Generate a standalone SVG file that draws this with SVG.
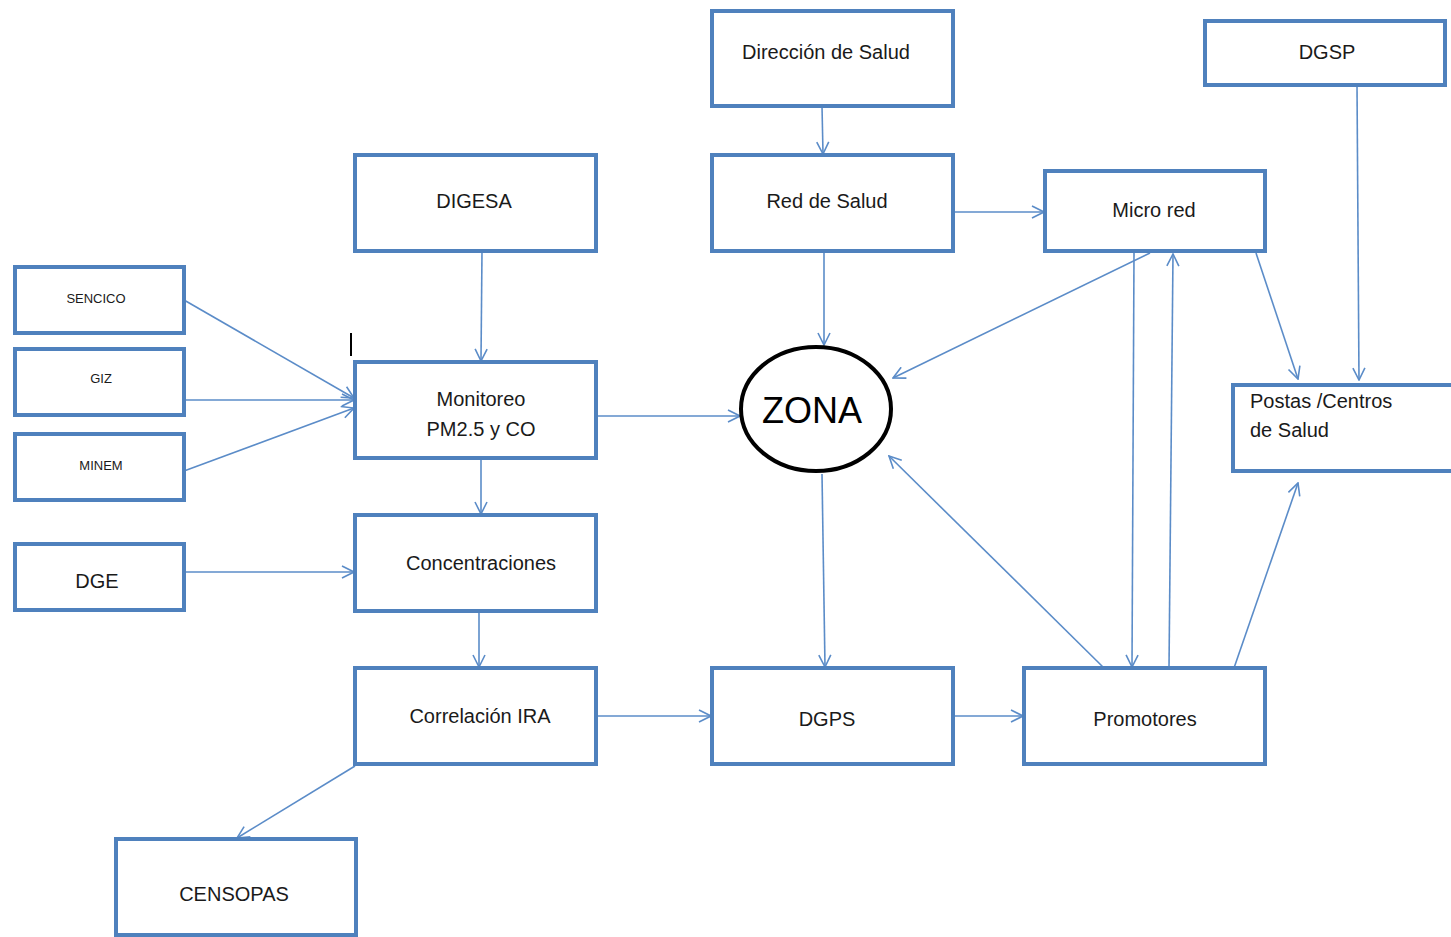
<svg xmlns="http://www.w3.org/2000/svg" width="1451" height="937" viewBox="0 0 1451 937">
<style>
.box{fill:#fff;stroke:#4f81bd;stroke-width:4}
.lbl{font-family:"Liberation Sans",Arial,sans-serif;font-size:20px;fill:#1a1a1a;text-anchor:middle}
.sm{font-size:13px}
.conn line{stroke:#5b8cc8;stroke-width:1.6;fill:none;marker-end:url(#arr)}
</style>
<defs>
<marker id="arr" viewBox="0 0 14 14" refX="13" refY="7" markerWidth="14" markerHeight="14" markerUnits="userSpaceOnUse" orient="auto">
<path d="M1,1 L13,7 L1,13" fill="none" stroke="#5b8cc8" stroke-width="1.6"/>
</marker>
</defs>
<rect width="1451" height="937" fill="#fff"/>
<g id="connectors" class="conn">
<line x1="822" y1="106" x2="823" y2="154"/>
<line x1="824" y1="251" x2="824" y2="345"/>
<line x1="953" y1="212" x2="1044" y2="212"/>
<line x1="1357" y1="85" x2="1359" y2="380"/>
<line x1="1256" y1="253" x2="1298" y2="379"/>
<line x1="1150" y1="253" x2="893" y2="378"/>
<line x1="1134" y1="253" x2="1132" y2="667"/>
<line x1="1169" y1="668" x2="1173" y2="254"/>
<line x1="1104" y1="668" x2="889" y2="456"/>
<line x1="1234" y1="668" x2="1298" y2="483"/>
<line x1="822" y1="474" x2="825" y2="667"/>
<line x1="953" y1="716" x2="1023" y2="716"/>
<line x1="596" y1="716" x2="711" y2="716"/>
<line x1="355" y1="766" x2="237" y2="838"/>
<line x1="479" y1="611" x2="479" y2="667"/>
<line x1="481" y1="458" x2="481" y2="514"/>
<line x1="596" y1="416" x2="740" y2="416"/>
<line x1="482" y1="251" x2="481" y2="361"/>
<line x1="184" y1="300" x2="354" y2="398"/>
<line x1="184" y1="400" x2="354" y2="400"/>
<line x1="184" y1="471" x2="354" y2="408"/>
<line x1="184" y1="572" x2="354" y2="572"/>
</g>
<g id="cursor"><line x1="351" y1="333" x2="351" y2="356" stroke="#000" stroke-width="2"/></g>
<g id="direccion"><rect class="box" x="712" y="11" width="241" height="95"/><text class="lbl" x="826" y="59">Dirección de Salud</text></g>
<g id="dgsp"><rect class="box" x="1205" y="21" width="240" height="64"/><text class="lbl" x="1327" y="59">DGSP</text></g>
<g id="digesa"><rect class="box" x="355" y="155" width="241" height="96"/><text class="lbl" x="474" y="208">DIGESA</text></g>
<g id="red"><rect class="box" x="712" y="155" width="241" height="96"/><text class="lbl" x="827" y="208">Red de Salud</text></g>
<g id="microred"><rect class="box" x="1045" y="171" width="220" height="80"/><text class="lbl" x="1154" y="217">Micro red</text></g>
<g id="sencico"><rect class="box" x="15" y="267" width="169" height="66"/><text class="lbl sm" x="96" y="303">SENCICO</text></g>
<g id="giz"><rect class="box" x="15" y="349" width="169" height="66"/><text class="lbl sm" x="101" y="383">GIZ</text></g>
<g id="minem"><rect class="box" x="15" y="434" width="169" height="66"/><text class="lbl sm" x="101" y="470">MINEM</text></g>
<g id="monitoreo"><rect class="box" x="355" y="362" width="241" height="96"/><text class="lbl" x="481" y="406">Monitoreo</text><text class="lbl" x="481" y="436">PM2.5 y CO</text></g>
<g id="zona"><ellipse cx="816" cy="409" rx="75" ry="62" fill="#fff" stroke="#000" stroke-width="4"/><text class="lbl" x="812" y="423" style="font-size:36px;fill:#000">ZONA</text></g>
<g id="postas"><path class="box" d="M1455,385 H1233 V471 H1455"/><text class="lbl" x="1250" y="408" style="text-anchor:start">Postas /Centros</text><text class="lbl" x="1250" y="437" style="text-anchor:start">de Salud</text></g>
<g id="dge"><rect class="box" x="15" y="544" width="169" height="66"/><text class="lbl" x="97" y="588">DGE</text></g>
<g id="concentraciones"><rect class="box" x="355" y="515" width="241" height="96"/><text class="lbl" x="481" y="570">Concentraciones</text></g>
<g id="correlacion"><rect class="box" x="355" y="668" width="241" height="96"/><text class="lbl" x="480" y="723">Correlación IRA</text></g>
<g id="dgps"><rect class="box" x="712" y="668" width="241" height="96"/><text class="lbl" x="827" y="726">DGPS</text></g>
<g id="promotores"><rect class="box" x="1024" y="668" width="241" height="96"/><text class="lbl" x="1145" y="726">Promotores</text></g>
<g id="censopas"><rect class="box" x="116" y="839" width="240" height="96"/><text class="lbl" x="234" y="901">CENSOPAS</text></g>
</svg>
